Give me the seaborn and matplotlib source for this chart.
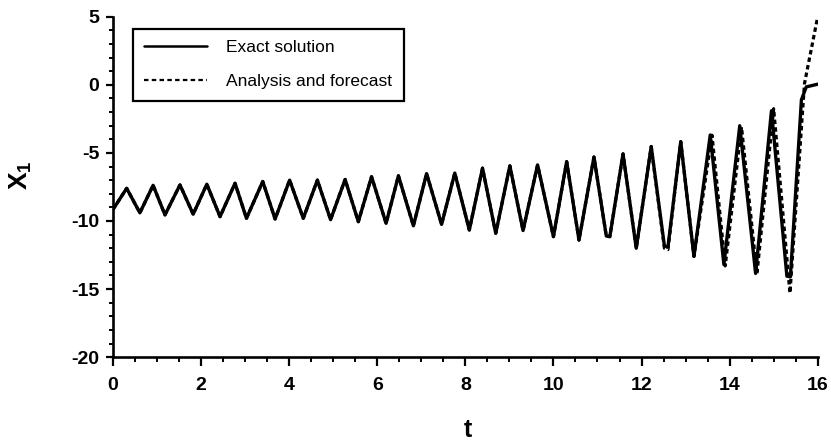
import matplotlib
matplotlib.use("Agg")
import matplotlib.pyplot as plt
from matplotlib.ticker import MultipleLocator
from matplotlib.lines import Line2D
import seaborn as sns
import pandas as pd

# Exact solution: extrema
t_exact = [0.0, 0.31, 0.61, 0.91, 1.18, 1.52, 1.82, 2.13, 2.43, 2.77, 3.03, 3.40,
           3.68, 4.01, 4.32, 4.64, 4.94, 5.27, 5.57, 5.87, 6.20, 6.48, 6.82, 7.12,
           7.46, 7.76, 8.09, 8.39, 8.69, 9.01, 9.31, 9.64, 10.00, 10.30, 10.58,
           10.92, 11.20, 11.28, 11.58, 11.88, 12.22, 12.52, 12.60, 12.89, 13.19,
           13.56, 13.87, 14.23, 14.59, 14.95, 15.30, 15.38, 15.63, 15.74, 16.0]
x_exact = [-9.15, -7.6, -9.4, -7.38, -9.55, -7.35, -9.5, -7.3, -9.68, -7.23, -9.8, -7.1,
           -9.85, -7.0, -9.8, -7.0, -9.9, -6.95, -10.05, -6.75, -10.17, -6.68, -10.35, -6.52,
           -10.25, -6.48, -10.66, -6.12, -10.9, -5.95, -10.7, -5.88, -11.15, -5.64, -11.4,
           -5.3, -11.1, -11.15, -5.07, -12.0, -4.53, -11.85, -11.9, -4.17, -12.6,
           -3.68, -13.2, -3.0, -13.85, -1.9, -14.05, -14.1, -1.1, -0.15, 0.05]

# Analysis and forecast
t_fore = [0.0, 0.31, 0.61, 0.91, 1.18, 1.52, 1.82, 2.13, 2.43, 2.77, 3.03, 3.40,
          3.68, 4.01, 4.32, 4.64, 4.94, 5.27, 5.57, 5.87, 6.20, 6.48, 6.82, 7.12,
          7.46, 7.76, 8.09, 8.39, 8.69, 9.01, 9.31, 9.64, 10.00, 10.30, 10.58,
          10.92, 11.20, 11.28, 11.58, 11.88, 12.22, 12.52, 12.60, 12.89, 13.19,
          13.60, 13.90, 14.27, 14.62, 15.00, 15.37, 15.70, 16.0]
x_fore = [-9.15, -7.6, -9.4, -7.38, -9.55, -7.35, -9.5, -7.3, -9.68, -7.23, -9.8, -7.1,
          -9.85, -7.0, -9.8, -7.0, -9.9, -6.95, -10.05, -6.75, -10.17, -6.68, -10.35, -6.52,
          -10.25, -6.48, -10.66, -6.12, -10.9, -5.95, -10.7, -5.88, -11.15, -5.64, -11.4,
          -5.3, -11.1, -11.15, -5.07, -12.0, -4.53, -12.0, -12.1, -4.17, -12.6,
          -3.7, -13.3, -3.1, -13.9, -1.75, -15.3, 0.1, 5.0]

sns.set_style("ticks")
plt.rcParams['font.family'] = ['Liberation Sans', 'DejaVu Sans']
plt.rcParams['axes.unicode_minus'] = False
plt.rcParams['mathtext.fontset'] = 'custom'
plt.rcParams['mathtext.bf'] = 'Liberation Sans:bold'
plt.rcParams['mathtext.rm'] = 'Liberation Sans:bold'
plt.rcParams['text.color'] = 'black'
plt.rcParams['axes.labelcolor'] = 'black'
plt.rcParams['xtick.color'] = 'black'
plt.rcParams['ytick.color'] = 'black'

fig = plt.figure(figsize=(8.31, 4.42), dpi=100)
ax = fig.add_axes([0.136, 0.192, 0.848, 0.770])

df_e = pd.DataFrame({"t": t_exact, "x": x_exact})
df_f = pd.DataFrame({"t": t_fore, "x": x_fore})

sns.lineplot(data=df_f, x="t", y="x", ax=ax, color="black", sort=False,
             linewidth=2.3, estimator=None)
ax.lines[-1].set_dashes((1.4, 1.0))
sns.lineplot(data=df_e, x="t", y="x", ax=ax, color="black", sort=False,
             linewidth=2.4, estimator=None)

ax.set_xlim(0, 16)
ax.set_ylim(-20, 5)
ax.xaxis.set_major_locator(MultipleLocator(2))
ax.xaxis.set_minor_locator(MultipleLocator(0.5))
ax.yaxis.set_major_locator(MultipleLocator(5))
ax.yaxis.set_minor_locator(MultipleLocator(1))

for side in ["top", "right"]:
    ax.spines[side].set_visible(False)
for side in ["left", "bottom"]:
    ax.spines[side].set_linewidth(1.9)
    ax.spines[side].set_color("black")

ax.tick_params(axis="x", which="major", direction="out", length=6.5, width=1.6,
               color="black", labelcolor="black", labelsize=14, pad=8)
ax.tick_params(axis="x", which="minor", direction="out", length=3.5, width=1.4,
               color="black")
ax.tick_params(axis="y", which="major", direction="out", length=5, width=1.6,
               color="black", labelcolor="black", labelsize=14, pad=5)
ax.tick_params(axis="y", which="minor", direction="out", length=3, width=1.4,
               color="black")
for lab in ax.get_xticklabels() + ax.get_yticklabels():
    lab.set_fontweight("bold")

ax.set_xlabel("t", fontsize=18, fontweight="bold", color="black")
ax.set_ylabel("X$_\\mathbf{1}$", fontsize=19, fontweight="bold", rotation=90,
              color="black")
ax.xaxis.set_label_coords(0.503, -0.18)
ax.yaxis.set_label_coords(-0.112, 0.535)

handles = [Line2D([], [], color="black", linewidth=1.8),
           Line2D([], [], color="black", linewidth=1.6, dashes=(2.0, 1.5))]
leg = ax.legend(handles, ["Exact solution", "Analysis and forecast"],
                loc="upper left", bbox_to_anchor=(0.028, 0.965), fontsize=12.5,
                handlelength=3.6, handletextpad=1.15, labelspacing=1.1,
                borderpad=0.65, borderaxespad=0.0, fancybox=False, framealpha=1,
                edgecolor="black")
leg.get_frame().set_linewidth(1.6)
for txt in leg.get_texts():
    txt.set_color("black")

fig.savefig("out.png", dpi=100)
